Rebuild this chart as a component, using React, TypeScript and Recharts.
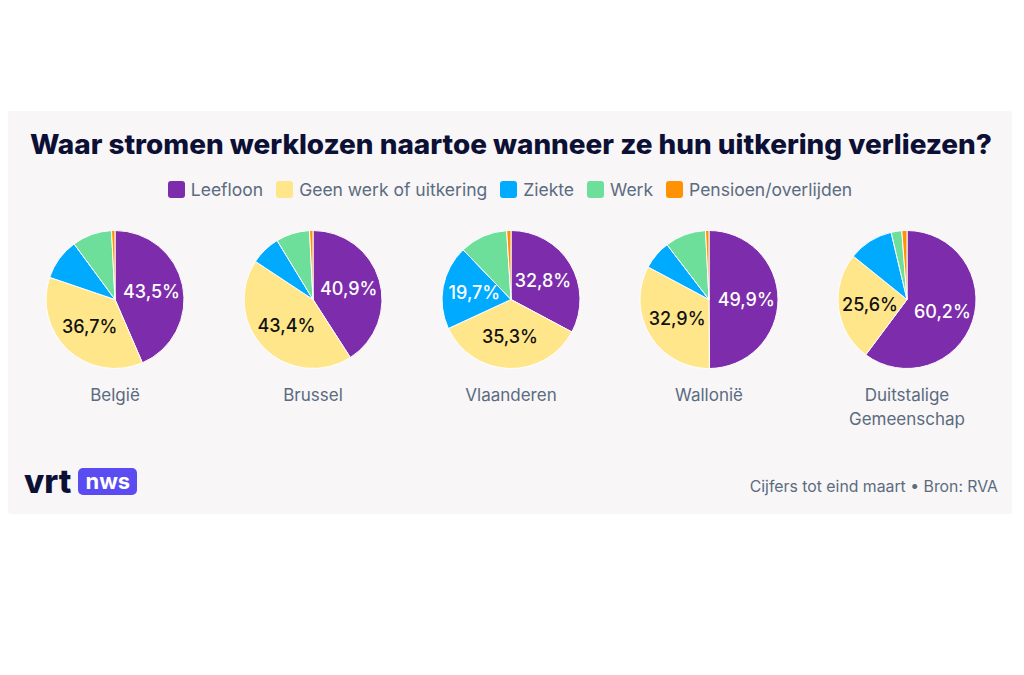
import React from "react";
import { PieChart, Pie, Cell } from "recharts";

const categories = ["Leefloon", "Geen werk of uitkering", "Ziekte", "Werk", "Pensioen/overlijden"];
const regions = ["België", "Brussel", "Vlaanderen", "Wallonië", "Duitstalige Gemeenschap"];

// share per region (België, Brussel, Vlaanderen, Wallonië, Duitstalige Gemeenschap)
const leefloon = [43.5, 40.9, 32.8, 49.9, 60.2];
const geenWerk = [36.7, 43.4, 35.3, 32.9, 25.6];
const ziekte = [9.7, 7.0, 19.7, 6.8, 10.5];
const werk = [9.3, 7.9, 11.2, 9.6, 2.5];
const pensioen = [0.8, 0.8, 1.0, 0.8, 1.2];

const colors = ["#7d2cab", "#ffe68a", "#00abff", "#6ddf9b", "#ff9200"];
const labelColors = ["#ffffff", "#111111", "#ffffff", "#111111", "#111111"];

const series = [leefloon, geenWerk, ziekte, werk, pensioen];
const RADIAN = Math.PI / 180;
const textGray = "#5b6b80";
const navy = "#0d1035";

const fmt = (v: number) => v.toFixed(1).replace(".", ",") + "%";

const renderLabel = (props: any) => {
  const { cx, cy, midAngle, outerRadius, value, index } = props;
  if (value < 15) return null;
  const r = outerRadius * 0.54;
  const x = cx + r * Math.cos(-midAngle * RADIAN);
  const y = cy + r * Math.sin(-midAngle * RADIAN);
  return (
    <text
      x={x}
      y={y}
      textAnchor="middle"
      dominantBaseline="central"
      fill={labelColors[index]}
      fontSize={18}
      fontWeight={500}
      fontFamily="Inter, sans-serif"
    >
      {fmt(value)}
    </text>
  );
};

export default function App() {
  const pieCx = regions.map((_, i) => 115 + i * 198);
  const pieCy = 79.5;

  return (
    <div
      style={{
        position: "absolute",
        left: 0,
        top: 0,
        width: 1024,
        height: 675,
        background: "#ffffff",
        fontFamily: "Inter, sans-serif",
      }}
    >
      <div
        style={{
          position: "absolute",
          left: 8,
          top: 111,
          width: 1004,
          height: 403,
          background: "#f8f6f7",
          borderRadius: 3,
        }}
      />

      <svg width={1024} height={220} style={{ position: "absolute", left: 0, top: 0 }}>
        <text
          x={30}
          y={154}
          fontSize={27}
          fontWeight={800}
          fill={navy}
          fontFamily="Inter, sans-serif"
          textLength={962}
          lengthAdjust="spacingAndGlyphs"
        >
          Waar stromen werklozen naartoe wanneer ze hun uitkering verliezen?
        </text>
      </svg>

      <div
        style={{
          position: "absolute",
          left: 8,
          top: 179,
          width: 1004,
          display: "flex",
          justifyContent: "center",
          alignItems: "center",
          gap: 13,
          fontSize: 17.5,
          color: textGray,
        }}
      >
        {categories.map((c, i) => (
          <div key={c} style={{ display: "flex", alignItems: "center", gap: 6 }}>
            <div
              style={{
                width: 17,
                height: 17,
                borderRadius: 3,
                background: colors[i],
              }}
            />
            <span>{c}</span>
          </div>
        ))}
      </div>

      <div style={{ position: "absolute", left: 0, top: 220 }}>
        <PieChart width={1024} height={160} margin={{ top: 0, right: 0, bottom: 0, left: 0 }}>
          {regions.map((reg, r) => (
            <Pie
              key={reg}
              data={categories.map((c, i) => ({ name: c, value: series[i][r] }))}
              dataKey="value"
              nameKey="name"
              cx={pieCx[r]}
              cy={pieCy}
              outerRadius={69}
              startAngle={90}
              endAngle={-270}
              stroke="#ffffff"
              strokeWidth={1}
              label={renderLabel}
              labelLine={false}
              isAnimationActive={false}
            >
              {categories.map((c, i) => (
                <Cell key={c} fill={colors[i]} />
              ))}
            </Pie>
          ))}
        </PieChart>
      </div>

      {regions.map((reg, r) => (
        <div
          key={reg}
          style={{
            position: "absolute",
            left: pieCx[r] - 80,
            top: 383,
            width: 160,
            textAlign: "center",
            fontSize: 17,
            lineHeight: "24px",
            color: textGray,
          }}
        >
          {reg}
        </div>
      ))}

      <div
        style={{
          position: "absolute",
          left: 24,
          top: 466,
          display: "flex",
          alignItems: "center",
          gap: 7,
        }}
      >
        <span style={{ fontSize: 33, fontWeight: 800, color: navy, letterSpacing: 0, lineHeight: "30px" }}>
          vrt
        </span>
        <span
          style={{
            background: "#5a4cf0",
            color: "#ffffff",
            borderRadius: 5,
            fontSize: 22,
            fontWeight: 700,
            lineHeight: "27px",
            padding: "0 7px",
          }}
        >
          nws
        </span>
      </div>

      <div
        style={{
          position: "absolute",
          right: 26,
          top: 477,
          fontSize: 15.8,
          color: textGray,
        }}
      >
        Cijfers tot eind maart • Bron: RVA
      </div>
    </div>
  );
}
